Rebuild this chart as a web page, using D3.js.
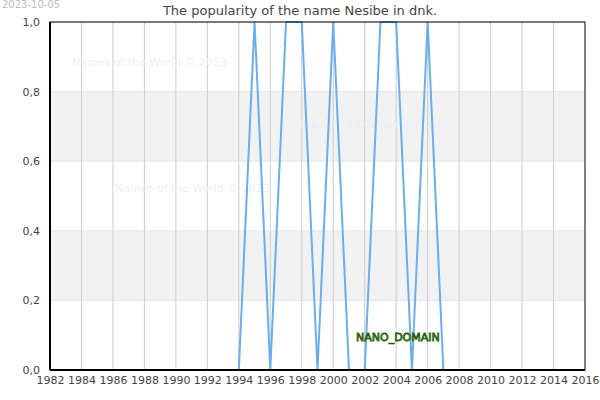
<!DOCTYPE html>
<html><head><meta charset="utf-8">
<script src="https://cdn.jsdelivr.net/npm/d3@7"></script>
<style>body{margin:0;background:#fff}text{font-family:"DejaVu Sans",sans-serif}</style>
</head><body><div id="chart"></div>
<script>
var years = d3.range(1982, 2017);
var values = [0,0,0,0,0,0,0,0,0,0,0,0,0,1,0,1,1,0,1,0,0,1,1,0,1,0,0,0,0,0,0,0,0,0,0];
var yTicks = [0, 0.2, 0.4, 0.6, 0.8, 1.0];
var bands = [[0.2, 0.4], [0.6, 0.8]];
var watermarks = [[72, 66], [300, 128], [115, 192]];

var w = 600, h = 400;
var margin = {top: 22, right: 15, bottom: 30, left: 50};
var svg = d3.select("#chart").append("svg").attr("width", w).attr("height", h);

var x = d3.scaleLinear().domain([1982, 2016]).range([margin.left, w - margin.right]);
var y = d3.scaleLinear().domain([0, 1]).range([h - margin.bottom, margin.top]);

svg.selectAll(".band").data(bands).enter().append("rect")
   .attr("x", x(1982)).attr("width", x(2016) - x(1982))
   .attr("y", function(d) { return y(d[1]); })
   .attr("height", function(d) { return y(d[0]) - y(d[1]); })
   .attr("fill", "#f2f2f2");

svg.selectAll(".hgrid").data(yTicks).enter().append("line")
   .attr("x1", x(1982)).attr("x2", x(2016))
   .attr("y1", function(d) { return y(d); }).attr("y2", function(d) { return y(d); })
   .attr("stroke", "#e6e6e6");

svg.selectAll(".vgrid").data(d3.range(1984, 2016, 2)).enter().append("line")
   .attr("y1", y(0)).attr("y2", y(1))
   .attr("x1", function(d) { return x(d); }).attr("x2", function(d) { return x(d); })
   .attr("stroke", "#cccccc");

svg.selectAll(".wm").data(watermarks).enter().append("text")
   .attr("x", function(d) { return d[0]; }).attr("y", function(d) { return d[1]; })
   .attr("font-size", 11).attr("fill", "#eeeeff")
   .text("Names of the World © 2023");

var line = d3.line().x(function(d, i) { return x(years[i]); }).y(function(d) { return y(d); });
svg.append("path").datum(values).attr("d", line)
   .attr("fill", "none").attr("stroke", "#6aaef0").attr("stroke-width", 2);

svg.append("text").attr("x", 356).attr("y", 341).attr("font-size", 11)
   .attr("fill", "#6fbf3f").attr("stroke", "#2a5a10").attr("stroke-width", 0.8)
   .text("NANO_DOMAIN");

// frame
svg.append("rect").attr("x", x(1982)).attr("y", y(1))
   .attr("width", x(2016) - x(1982)).attr("height", y(0) - y(1))
   .attr("fill", "none").attr("stroke", "#000").attr("stroke-width", 1);
svg.append("line").attr("x1", x(1982)).attr("x2", x(2016)).attr("y1", y(0)).attr("y2", y(0))
   .attr("stroke", "#000").attr("stroke-width", 2);
svg.append("line").attr("x1", x(1982)).attr("x2", x(1982)).attr("y1", y(0)).attr("y2", y(1))
   .attr("stroke", "#000").attr("stroke-width", 2);

var xAxis = d3.axisBottom(x).tickValues(d3.range(1982, 2017, 2)).tickFormat(d3.format("d")).tickSize(0).tickPadding(6);
var gx = svg.append("g").attr("transform", "translate(0," + y(0) + ")").call(xAxis);
gx.select(".domain").remove();
gx.selectAll("text").attr("font-size", 11).attr("fill", "#444").style("font-family", "DejaVu Sans");

var yAxis = d3.axisLeft(y).tickValues(yTicks).tickFormat(function(d) { return d3.format(".1f")(d).replace(".", ","); }).tickSize(0).tickPadding(10);
var gy = svg.append("g").attr("transform", "translate(" + x(1982) + ",0)").call(yAxis);
gy.select(".domain").remove();
gy.selectAll("text").attr("font-size", 11).attr("fill", "#444").style("font-family", "DejaVu Sans");

svg.append("text").attr("x", 300).attr("y", 15).attr("text-anchor", "middle")
   .attr("font-size", 13).attr("fill", "#444").text("The popularity of the name Nesibe in dnk.");
svg.append("text").attr("x", 2).attr("y", 8).attr("font-size", 10).attr("fill", "#bbb").text("2023-10-05");
</script></body></html>
